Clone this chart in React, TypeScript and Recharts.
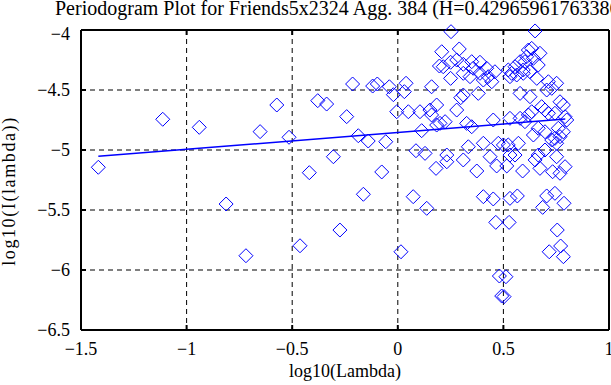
import React from 'react';
import {
  ScatterChart,
  Scatter,
  XAxis,
  YAxis,
  CartesianGrid,
  ReferenceLine,
} from 'recharts';

// ─── Data ────────────────────────────────────────────────────────────────────
const logLambda = [
  -1.418, -1.113, -0.94, -0.652, -0.813, -0.719, -0.573, -0.379, -0.337, -0.242,
  -0.515, -0.187, -0.14, -0.057, -0.214, -0.305, -0.419, -0.076, -0.163, -0.274,
  -0.463, 0.015, -0.119, -0.097, -0.04, -0.021, 0.039, 0.031, -0.005, 0.05,
  0.105, 0.152, 0.184, 0.16, 0.197, 0.113, 0.184, 0.086, 0.129, 0.181,
  0.073, 0.137,
  0.252, 0.65, 0.208, 0.291, 0.215, 0.25, 0.279, 0.31, 0.35, 0.389,
  0.357, 0.31, 0.25, 0.342, 0.389, 0.421, 0.428, 0.46, 0.405, 0.445,
  0.523, 0.531, 0.563, 0.594, 0.579, 0.61, 0.618, 0.31, 0.298, 0.381,
  0.279, 0.16, 0.2, 0.224, 0.326, 0.35, 0.452, 0.531, 0.579, 0.476,
  0.5, 0.405, 0.334, 0.232, 0.31, 0.531, 0.571,
  0.634, 0.673, 0.642, 0.665, 0.602, 0.555, 0.539, 0.594, 0.626, 0.658,
  0.713, 0.752, 0.729, 0.705, 0.579, 0.626, 0.768, 0.784, 0.681, 0.697,
  0.713, 0.744, 0.792, 0.8, 0.634, 0.618, 0.602, 0.665, 0.697, 0.642,
  0.76, 0.784, 0.768, 0.744, 0.729, 0.752, 0.523, 0.555, 0.665, 0.697,
  0.65,
  0.232, 0.374, 0.468, 0.516, 0.591, 0.673, 0.733, 0.768, 0.792, 0.405,
  0.452, 0.531, 0.566, 0.705, 0.744, 0.686, 0.787, 0.464, 0.527, 0.755,
  0.717, 0.771, 0.784, 0.481, 0.512, 0.492, 0.503, 0.752, 0.437,
];

const logPower = [
  -5.144, -4.744, -4.811, -4.847, -5.45, -5.881, -4.625, -4.589, -4.617, -4.722,
  -4.894, -4.881, -4.925, -4.931, -4.45, -5.056, -5.189, -5.183, -5.369, -5.667,
  -5.798, -5.848, -4.467, -4.45, -4.473, -4.539, -4.444, -4.514, -4.681, -4.681,
  -4.681, -4.667, -4.625, -4.473, -4.3, -4.839, -4.792, -5.006, -5.028, -5.153,
  -5.389, -5.486,
  -4.014, -4.008, -4.181, -4.158, -4.306, -4.269, -4.25, -4.286, -4.264, -4.269,
  -4.319, -4.361, -4.403, -4.389, -4.361, -4.319, -4.389, -4.348, -4.417, -4.431,
  -4.333, -4.389, -4.375, -4.361, -4.264, -4.223, -4.167, -4.542, -4.564, -4.528,
  -4.667, -4.708, -4.778, -4.764, -4.778, -4.806, -4.75, -4.736, -4.736, -4.944,
  -4.958, -4.944, -4.973, -5.042, -5.083, -5.042, -4.944,
  -4.153, -4.194, -4.236, -4.292, -4.264, -4.306, -4.361, -4.333, -4.348, -4.403,
  -4.431, -4.444, -4.486, -4.5, -4.528, -4.556, -4.598, -4.625, -4.639, -4.667,
  -4.694, -4.694, -4.723, -4.75, -4.681, -4.708, -4.764, -4.819, -4.848, -4.875,
  -4.819, -4.848, -4.889, -4.903, -4.917, -4.944, -4.958, -5.042, -5.042, -5.0,
  -5.083,
  -5.098, -5.175, -5.133, -5.133, -5.175, -5.153, -5.181, -5.194, -5.139, -5.389,
  -5.408, -5.403, -5.383, -5.383, -5.361, -5.478, -5.444, -5.603, -5.603, -5.667,
  -5.848, -5.8, -5.889, -6.05, -6.056, -6.217, -6.222, -5.056, -5.056,
];

// least-squares fit line endpoints
const fitX = [-1.418, 0.793];
const fitY = [-5.053, -4.742];

const xTicks = [-1.5, -1, -0.5, 0, 0.5, 1];
const yTicks = [-6.5, -6, -5.5, -5, -4.5, -4];

const TITLE = 'Periodogram Plot for Friends5x2324 Agg. 384 (H=0.42965961763386)';
const X_LABEL = 'log10(Lambda)';
const Y_LABEL = 'log10(I(lambda))';

// ─── Layout ──────────────────────────────────────────────────────────────────
const W = 611;
const H = 385;
const PLOT_LEFT = 81;
const PLOT_RIGHT = 609;
const PLOT_TOP = 30;
const PLOT_BOTTOM = 330;
const FONT = '"Liberation Serif", "DejaVu Serif", serif';
const BLUE = '#0000ff';

const points = logLambda.map((x, i) => ({ x, y: logPower[i] }));
const fitData = fitX.map((x, i) => ({ x, y: fitY[i] }));

const fmt = (v: number) => String(v).replace('-', '\u2212');

function Diamond({ cx, cy }: any) {
  if (cx == null || cy == null) return <g />;
  const r = 7;
  return (
    <path
      d={`M${cx},${cy - r}L${cx + r},${cy}L${cx},${cy + r}L${cx - r},${cy}Z`}
      fill="none"
      stroke={BLUE}
      strokeWidth={1}
    />
  );
}

// x tick: label below + inward tick marks on bottom and top borders
function XTick({ x, payload }: any) {
  const v = payload.value as number;
  const edge = v === xTicks[0] || v === xTicks[xTicks.length - 1];
  return (
    <g>
      {!edge && (
        <>
          <line x1={x} x2={x} y1={PLOT_BOTTOM} y2={PLOT_BOTTOM - 5} stroke="#000" strokeWidth={2} />
          <line x1={x} x2={x} y1={PLOT_TOP} y2={PLOT_TOP + 5} stroke="#000" strokeWidth={2} />
        </>
      )}
      <text x={x} y={PLOT_BOTTOM + 25} textAnchor="middle" fontFamily={FONT} fontSize={18} fill="#000">
        {fmt(v)}
      </text>
    </g>
  );
}

// y tick: label left + inward tick marks on left and right borders
function YTick({ y, payload }: any) {
  const v = payload.value as number;
  const edge = v === yTicks[0] || v === yTicks[yTicks.length - 1];
  // top label sits a little below its tick in the reference
  const shift = v === yTicks[yTicks.length - 1] ? 4 : 0;
  return (
    <g>
      {!edge && (
        <>
          <line x1={PLOT_LEFT} x2={PLOT_LEFT + 5} y1={y} y2={y} stroke="#000" strokeWidth={2} />
          <line x1={PLOT_RIGHT} x2={PLOT_RIGHT - 5} y1={y} y2={y} stroke="#000" strokeWidth={2} />
        </>
      )}
      <text x={PLOT_LEFT - 11} y={y + shift} dy="0.35em" textAnchor="end" fontFamily={FONT} fontSize={18} fill="#000">
        {fmt(v)}
      </text>
    </g>
  );
}

export default function App() {
  return (
    <div style={{ position: 'absolute', left: 0, top: 0, width: W, height: H, overflow: 'hidden', background: '#fff' }}>
      <ScatterChart
        width={W}
        height={H}
        margin={{ top: PLOT_TOP, right: W - PLOT_RIGHT, bottom: 0, left: 0 }}
      >
        <CartesianGrid stroke="#000" strokeDasharray="5 4" strokeWidth={1} />
        <XAxis
          type="number"
          dataKey="x"
          domain={[-1.5, 1]}
          ticks={xTicks}
          height={H - PLOT_BOTTOM}
          tickLine={false}
          tickSize={0}
          axisLine={{ stroke: '#000', strokeWidth: 2 }}
          tick={<XTick />}
          interval={0}
        />
        <YAxis
          type="number"
          dataKey="y"
          domain={[-6.5, -4]}
          ticks={yTicks}
          width={PLOT_LEFT}
          tickLine={false}
          tickSize={0}
          axisLine={{ stroke: '#000', strokeWidth: 2 }}
          tick={<YTick />}
          interval={0}
        />
        <ReferenceLine y={-4} stroke="#000" strokeWidth={2} />
        <ReferenceLine x={1} stroke="#000" strokeWidth={2} />
        <Scatter data={points} shape={<Diamond />} isAnimationActive={false} />
        <Scatter
          data={fitData}
          line={{ stroke: BLUE, strokeWidth: 1.5 }}
          shape={() => <g />}
          isAnimationActive={false}
        />
      </ScatterChart>

      <div
        style={{
          position: 'absolute', left: 55, top: -2, whiteSpace: 'nowrap',
          fontFamily: FONT, fontSize: 20, lineHeight: '20px', color: '#000',
        }}
      >
        {TITLE}
      </div>
      <div
        style={{
          position: 'absolute', left: 245, width: 200, top: 362, textAlign: 'center',
          fontFamily: FONT, fontSize: 18, lineHeight: '18px', color: '#000',
          whiteSpace: 'nowrap',
        }}
      >
        {X_LABEL}
      </div>
      <div
        style={{
          position: 'absolute', left: 9 - 100, width: 200, top: 191 - 9, textAlign: 'center',
          transform: 'rotate(-90deg)', transformOrigin: '50% 50%', letterSpacing: 1.6,
          fontFamily: FONT, fontSize: 18, lineHeight: '18px', color: '#000', whiteSpace: 'nowrap',
        }}
      >
        {Y_LABEL}
      </div>
    </div>
  );
}
